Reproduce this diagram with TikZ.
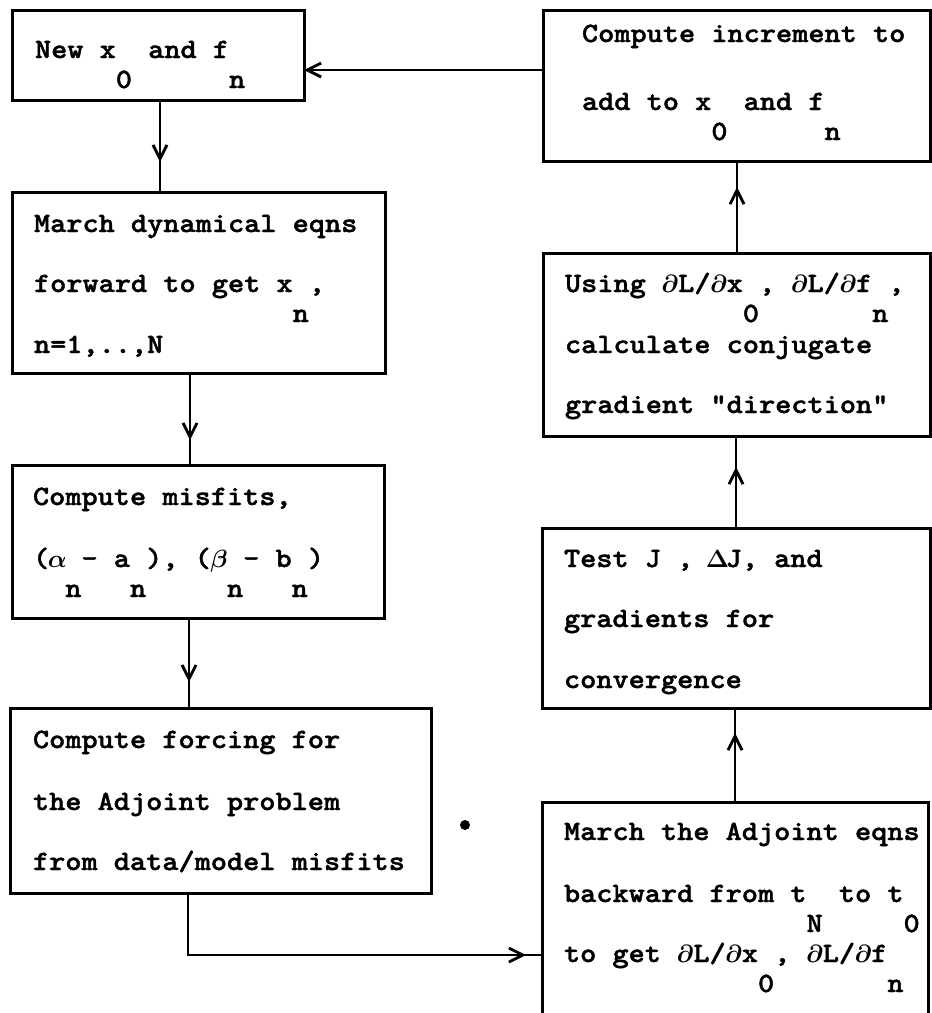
\documentclass[tikz,border=0pt]{standalone}
\usepackage{fontspec}
\newfontfamily\tw{lmmonolt10-bold.otf}[FakeStretch=1.1,FakeBold=1.5,Ligatures=TeXOff]
\usetikzlibrary{arrows.meta,decorations.markings}
\newcommand\lo[1]{\raisebox{-30pt}[0pt][0pt]{#1}}
\newcommand\cg[1]{\makebox[16.17pt][c]{\boldmath$#1$}}
\frenchspacing
\begin{document}
\begin{tikzpicture}[x=1pt,y=-1pt,
  box/.style={draw,line width=3pt,rectangle,inner sep=0pt,outer sep=0pt},
  txt/.style={anchor=base west,inner sep=0pt,outer sep=0pt,font=\fontsize{28}{30}\selectfont\tw},
  conn/.style={line width=2.8pt},
  tipat/.style={postaction={decorate,decoration={markings,mark=at position #1 with {\arrow{Straight Barb[length=14pt,width=14pt]}}}}},
  endtip/.style={-{Straight Barb[length=14pt,width=14pt]}}
]
\useasboundingbox (0,0) rectangle (932,1013);
\clip (0,0) rectangle (932,1013);

% boxes
\node[box,minimum width=292pt,minimum height=90pt] (b1) at (158,55) {};
\node[box,minimum width=373pt,minimum height=181pt] (b2) at (198.5,282.5) {};
\node[box,minimum width=372pt,minimum height=153pt] (b3) at (198,541.5) {};
\node[box,minimum width=421pt,minimum height=185pt] (b4) at (220.5,800.5) {};
\node[box,minimum width=387pt,minimum height=151pt] (r1) at (736.5,85.5) {};
\node[box,minimum width=387pt,minimum height=183pt] (r2) at (736.5,344.5) {};
\node[box,minimum width=388pt,minimum height=180pt] (r3) at (736,618) {};
\node[box,minimum width=386pt,minimum height=248pt] (r4) at (735,926) {};

% texts
\node[txt] (t1a) at (35,58) {New x\lo{0} and f\lo{n}};
\node[txt] (t2a) at (34,232) {March dynamical eqns};
\node[txt] (t2b) at (34,292) {forward to get x\lo{n},};
\node[txt] (t2c) at (34,353) {n=1,..,N};
\node[txt] (t3a) at (33,505) {Compute misfits,};
\node[txt] (t3b) at (33,567) {(\cg{\alpha}\lo{n}- a\lo{n}), (\cg{\beta}\lo{n}- b\lo{n})};
\node[txt] (t4a) at (33,748) {Compute forcing for};
\node[txt] (t4b) at (33,810) {the Adjoint problem};
\node[txt] (t4c) at (33,870) {from data/model misfits};
\node[txt] (u1a) at (582,42) {Compute increment to};
\node[txt] (u1b) at (582,110) {add to x\lo{0} and f\lo{n}};
\node[txt] (u2a) at (565,292) {Using \cg{\partial}L/\cg{\partial}x\lo{0}, \cg{\partial}L/\cg{\partial}f\lo{n},};
\node[txt] (u2b) at (565,353) {calculate conjugate};
\node[txt] (u2c) at (565,413) {gradient "direction"};
\node[txt] (u3a) at (564,567) {Test J , \cg{\Delta}J, and};
\node[txt] (u3b) at (564,627) {gradients for};
\node[txt] (u3c) at (564,688) {convergence};
\node[txt] (u4a) at (564,840) {March the Adjoint eqns};
\node[txt] (u4b) at (564,902) {backward from t\lo{N} to t\lo{0}};
\node[txt] (u4c) at (564,962) {to get \cg{\partial}L/\cg{\partial}x\lo{0}, \cg{\partial}L/\cg{\partial}f\lo{n}};

% stray dot
\node[circle,fill,inner sep=0pt,minimum size=10pt] (dot) at (465,825) {};

% connectors
\draw[conn,tipat=62pt] ([xshift=2pt]b1.south) -- ([xshift=2pt]b1.south |- b2.north);
\draw[conn,tipat=67pt] ([xshift=-8.5pt]b2.south) -- ([xshift=-8.5pt]b2.south |- b3.north);
\draw[conn,tipat=64pt] ([xshift=-9pt]b3.south) -- ([xshift=-9pt]b3.south |- b4.north);
\draw[conn,tipat=-16pt] ([xshift=-32.5pt]b4.south) |- ([yshift=-153pt]r4.north west);
\draw[conn,tipat=69pt] (r4.north) -- (r4.north |- r3.south);
\draw[conn,tipat=61pt] (r3.north) -- (r3.north |- r2.south);
\draw[conn,tipat=66pt] ([xshift=0.5pt]r2.north) -- ([xshift=0.5pt]r2.north |- r1.south);
\draw[conn,endtip] ([yshift=15.5pt]r1.west) -- ([yshift=15.5pt]r1.west -| b1.east);
\end{tikzpicture}
\end{document}
